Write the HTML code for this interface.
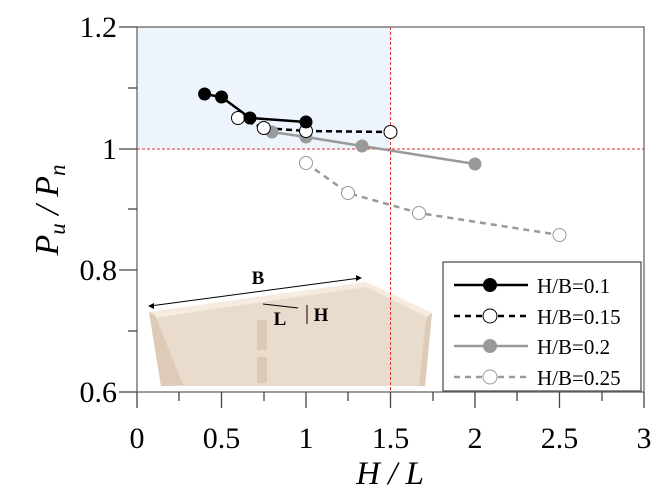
<!DOCTYPE html>
<html><head><style>body{margin:0;background:#fff}svg{display:block}</style></head>
<body>
<svg width="664" height="501" viewBox="0 0 664 501" xmlns="http://www.w3.org/2000/svg" font-family="Liberation Serif, serif">
<rect x="137" y="27" width="253.5" height="122" fill="#edf4fb"/>
<!-- illustration -->
<polygon points="149,312 366,282 432,313 425,386 161,386" fill="#e9dccd"/>
<polygon points="149,312 366,282 432,313 429,318 366,287 153,318" fill="#f6ebdf"/>
<polygon points="149,312 155,315 183,385 161,386" fill="#ddcbb7"/>
<polygon points="432,313 425,386 419,386 426,318" fill="#ddcbb7"/>
<rect x="257" y="320" width="10" height="30" fill="#ddcab5"/>
<rect x="257" y="357" width="10" height="26" fill="#ddcab5"/>
<line x1="150" y1="306" x2="360" y2="278" stroke="#000" stroke-width="1"/>
<polygon points="148,306 154,303 154,309" fill="#000"/>
<polygon points="362,278 356,275 356,281" fill="#000"/>
<line x1="263" y1="304" x2="298" y2="308" stroke="#000" stroke-width="1"/>
<line x1="307" y1="305" x2="307" y2="324" stroke="#000" stroke-width="1"/>
<text x="258" y="284" font-size="19" font-weight="bold" text-anchor="middle">B</text>
<text x="280" y="325" font-size="19" font-weight="bold" text-anchor="middle">L</text>
<text x="321" y="321" font-size="19" font-weight="bold" text-anchor="middle">H</text>
<!-- red lines -->
<line x1="390.5" y1="27" x2="390.5" y2="392" stroke="#e03030" stroke-width="1" stroke-dasharray="3,2"/>
<line x1="137" y1="149" x2="644" y2="149" stroke="#e03030" stroke-width="1" stroke-dasharray="3,2"/>
<!-- axes -->
<rect x="137" y="27" width="507" height="365" fill="none" stroke="#666" stroke-width="1.3"/>
<g stroke="#444" stroke-width="1.3">
<line x1="119" y1="27" x2="137" y2="27"/><line x1="119" y1="149" x2="137" y2="149"/><line x1="119" y1="270" x2="137" y2="270"/><line x1="119" y1="392" x2="137" y2="392"/>
<line x1="128" y1="88" x2="137" y2="88"/><line x1="128" y1="209" x2="137" y2="209"/><line x1="128" y1="331" x2="137" y2="331"/>
<line x1="137" y1="392" x2="137" y2="408"/>
<line x1="179" y1="392" x2="179" y2="401"/><line x1="221.5" y1="392" x2="221.5" y2="408"/><line x1="264" y1="392" x2="264" y2="401"/><line x1="306" y1="392" x2="306" y2="408"/><line x1="348" y1="392" x2="348" y2="401"/><line x1="390.5" y1="392" x2="390.5" y2="408"/><line x1="433" y1="392" x2="433" y2="401"/><line x1="475" y1="392" x2="475" y2="408"/><line x1="517" y1="392" x2="517" y2="401"/><line x1="559.5" y1="392" x2="559.5" y2="408"/><line x1="602" y1="392" x2="602" y2="401"/><line x1="644" y1="392" x2="644" y2="408"/>
</g>
<g font-size="30" text-anchor="end">
<text x="117" y="37">1.2</text><text x="117" y="159">1</text><text x="117" y="280">0.8</text><text x="117" y="402">0.6</text>
</g>
<g font-size="30" text-anchor="middle">
<text x="137" y="448">0</text><text x="221.5" y="448">0.5</text><text x="306" y="448">1</text><text x="390.5" y="448">1.5</text><text x="475" y="448">2</text><text x="559.5" y="448">2.5</text><text x="644" y="448">3</text>
</g>
<text x="390" y="484" font-size="33" font-style="italic" text-anchor="middle">H / L</text>
<text transform="translate(58,210) rotate(-90)" font-size="34" font-style="italic" text-anchor="middle">P<tspan font-size="23" dy="7">u</tspan><tspan dy="-7"> / P</tspan><tspan font-size="23" dy="7">n</tspan></text>
<!-- series -->
<polyline points="204.6,94 221.5,97 250,118 306,122" fill="none" stroke="#000" stroke-width="2.5"/>
<polyline points="238,118 263.8,128 306,131 390.5,132" fill="none" stroke="#000" stroke-width="2.5" stroke-dasharray="6,4"/>
<polyline points="272,132 306,137 362,146 475,164" fill="none" stroke="#999" stroke-width="2.5"/>
<polyline points="306,163 348,193 419,213 559.5,235" fill="none" stroke="#999" stroke-width="2.5" stroke-dasharray="6,5"/>
<g stroke="#999" stroke-width="1" fill="#fff"><circle cx="306" cy="163" r="6.5"/><circle cx="348" cy="193" r="6.5"/><circle cx="419" cy="213" r="6.5"/><circle cx="559.5" cy="235" r="6.5"/></g>
<g fill="#999"><circle cx="272" cy="132" r="6.5"/><circle cx="306" cy="137" r="6.5"/><circle cx="362" cy="146" r="6.5"/><circle cx="475" cy="164" r="6.5"/></g>
<g stroke="#000" stroke-width="1" fill="#fff"><circle cx="238" cy="118" r="6.5"/><circle cx="263.8" cy="128" r="6.5"/><circle cx="306" cy="131" r="6.5"/><circle cx="390.5" cy="132" r="6.5"/></g>
<g fill="#000"><circle cx="204.6" cy="94" r="6.5"/><circle cx="221.5" cy="97" r="6.5"/><circle cx="250" cy="118" r="6.5"/><circle cx="306" cy="122" r="6.5"/></g>
<!-- legend -->
<rect x="443" y="262" width="198" height="129" fill="#fff" stroke="#555" stroke-width="1.3"/>
<line x1="454" y1="285" x2="528" y2="285" stroke="#000" stroke-width="2.5"/><circle cx="490" cy="285" r="7" fill="#000"/>
<line x1="454" y1="316" x2="528" y2="316" stroke="#000" stroke-width="2.5" stroke-dasharray="6,5"/><circle cx="490" cy="316" r="7" fill="#fff" stroke="#000"/>
<line x1="454" y1="346" x2="528" y2="346" stroke="#999" stroke-width="2.5"/><circle cx="490" cy="346" r="7" fill="#999"/>
<line x1="454" y1="377" x2="528" y2="377" stroke="#999" stroke-width="2.5" stroke-dasharray="6,5"/><circle cx="490" cy="377" r="7" fill="#fff" stroke="#999"/>
<g font-size="21"><text x="537" y="293">H/B=0.1</text><text x="537" y="324">H/B=0.15</text><text x="537" y="354">H/B=0.2</text><text x="537" y="385">H/B=0.25</text></g>
</svg>
</body></html>
